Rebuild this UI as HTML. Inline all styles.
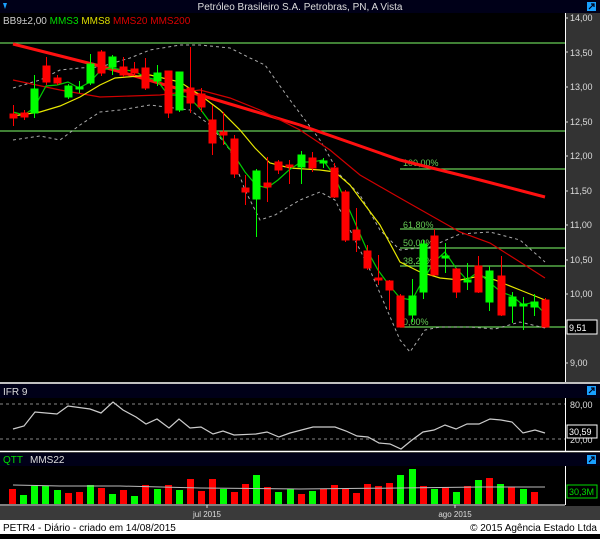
<!DOCTYPE html>
<html><head><meta charset="utf-8"><style>
body{margin:0;background:#000;width:600px;height:534px;overflow:hidden;font-family:"Liberation Sans",sans-serif}
text{font-family:"Liberation Sans",sans-serif}
</style></head><body>
<svg width="600" height="534" viewBox="0 0 600 534" xmlns="http://www.w3.org/2000/svg">
<rect width="600" height="534" fill="#000"/>
<!-- title bar -->
<rect x="0" y="0" width="600" height="13" fill="#000018"/>
<text x="300" y="10" font-size="10" fill="#ddd" text-anchor="middle">Petróleo Brasileiro S.A. Petrobras, PN, A Vista</text>
<path d="M3 3 L5 9 L7 3 Z" fill="#19a0ff"/>
<rect x="587" y="2" width="9" height="9" fill="#19a0ff"/><path d="M589 9 L594 4 M591 4 L594 4 L594 7" stroke="#000018" stroke-width="1.2" fill="none"/>
<text x="3" y="24" font-size="10" fill="#ccc">BB9±2,00 <tspan fill="#00dd00">MMS3</tspan> <tspan fill="#dddd00">MMS8</tspan> <tspan fill="#dd0000">MMS20</tspan> <tspan fill="#dd0000">MMS200</tspan></text>
<!-- right axis -->
<rect x="565" y="13" width="35" height="369" fill="#333"/>
<line x1="565.5" y1="13" x2="565.5" y2="382" stroke="#fff"/>
<g font-size="9" fill="#ddd">
<text x="570" y="21">14,00</text><text x="570" y="56">13,50</text><text x="570" y="90">13,00</text><text x="570" y="125">12,50</text><text x="570" y="159">12,00</text><text x="570" y="194">11,50</text><text x="570" y="228">11,00</text><text x="570" y="263">10,50</text><text x="570" y="297">10,00</text><text x="570" y="366">9,00</text>
</g>
<g stroke="#ddd"><line x1="565" y1="18" x2="568" y2="18"/><line x1="565" y1="52" x2="568" y2="52"/><line x1="565" y1="87" x2="568" y2="87"/><line x1="565" y1="122" x2="568" y2="122"/><line x1="565" y1="156" x2="568" y2="156"/><line x1="565" y1="191" x2="568" y2="191"/><line x1="565" y1="225" x2="568" y2="225"/><line x1="565" y1="260" x2="568" y2="260"/><line x1="565" y1="294" x2="568" y2="294"/><line x1="565" y1="363" x2="568" y2="363"/></g>
<rect x="567" y="320" width="30" height="14" fill="#000" stroke="#fff"/>
<text x="569" y="331" font-size="9" fill="#fff">9,51</text>
<!-- horizontal lines -->
<g stroke="#66cc55" stroke-width="1.2">
<line x1="0" y1="43" x2="565" y2="43"/><line x1="0" y1="131" x2="565" y2="131"/>
<line x1="400" y1="169" x2="565" y2="169"/><line x1="400" y1="229" x2="565" y2="229"/>
<line x1="400" y1="248" x2="565" y2="248"/><line x1="400" y1="266" x2="565" y2="266"/>
<line x1="400" y1="327" x2="565" y2="327"/>
</g>
<g font-size="9" fill="#66cc55">
<text x="403" y="166">100,00%</text><text x="403" y="228">61,80%</text><text x="403" y="246">50,00%</text><text x="403" y="264">38,20%</text><text x="403" y="325">0,00%</text>
</g>
<!-- bollinger -->
<g stroke="#aaa" stroke-width="1" stroke-dasharray="3,3" fill="none">
<polyline points="13,88 40,80 60,70 80,68 100,67 130,58 150,50 180,45 200,45 230,48 250,58 265,65 290,100 320,140 340,175 360,195 380,230 400,250 430,247 460,234 490,232 520,240 545,262"/>
<polyline points="13,140 40,136 60,140 80,125 100,112 120,110 150,105 190,110 210,125 230,150 245,190 260,220 275,215 300,200 320,192 335,200 350,230 370,270 385,305 400,340 410,352 425,330 440,327 470,327 495,329 520,322 545,328"/>
</g>
<!-- MMS200 -->
<polyline points="13,44 100,66 200,95 300,125 400,160 480,180 545,197" stroke="#ff1010" stroke-width="3" fill="none"/>
<!-- MMS20 -->
<polyline points="13,80 60,90 100,97 160,95 200,90 230,98 260,110 300,130 330,150 360,175 400,198 430,215 460,232 490,243 520,262 545,278" stroke="#d00000" stroke-width="1.2" fill="none"/>
<!-- MMS8 -->
<polyline points="13,116 40,112 60,106 80,97 100,85 115,78 150,75 180,82 200,95 220,110 240,130 255,148 270,163 290,168 320,170 335,172 350,185 365,205 380,225 400,262 420,272 440,278 460,280 480,276 495,280 520,290 545,300" stroke="#e8e800" stroke-width="1.2" fill="none"/>
<!-- MMS3 -->
<polyline points="13,112 24,115 34,108 46,86 57,85 68,82 79,88 90,82 101,70 112,68 123,70 134,71 145,77 157,80 168,95 179,95 190,98 201,110 212,125 223,140 234,155 245,172 256,185 267,188 278,180 289,170 301,162 312,162 323,160 334,175 345,200 356,225 367,250 378,270 389,285 400,298 412,300 423,280 434,262 445,252 456,268 467,280 478,272 489,282 501,292 512,296 523,305 534,302 545,314" stroke="#00cc00" stroke-width="1.2" fill="none"/>
<!-- candles -->
<g stroke-width="1">
<g stroke="#ff0000" fill="#ff0000">
<line x1="13.5" y1="105" x2="13.5" y2="126"/><rect x="10" y="114" width="7" height="4"/>
<line x1="24.5" y1="110" x2="24.5" y2="120"/><rect x="21" y="113" width="7" height="4"/>
<line x1="46.5" y1="57" x2="46.5" y2="85"/><rect x="43" y="66" width="7" height="16"/>
<line x1="57.5" y1="75" x2="57.5" y2="85"/><rect x="54" y="78" width="7" height="5"/>
<line x1="101.5" y1="50" x2="101.5" y2="76"/><rect x="98" y="52" width="7" height="21"/>
<line x1="123.5" y1="57" x2="123.5" y2="77"/><rect x="120" y="67" width="7" height="8"/>
<line x1="134.5" y1="62" x2="134.5" y2="76"/><rect x="131" y="69" width="7" height="4"/>
<line x1="145.5" y1="58" x2="145.5" y2="90"/><rect x="142" y="68" width="7" height="20"/>
<line x1="168.5" y1="71" x2="168.5" y2="118"/><rect x="165" y="71" width="7" height="42"/>
<line x1="190.5" y1="47" x2="190.5" y2="113"/><rect x="187" y="88" width="7" height="15"/>
<line x1="201.5" y1="88" x2="201.5" y2="112"/><rect x="198" y="94" width="7" height="13"/>
<line x1="212.5" y1="105" x2="212.5" y2="155"/><rect x="209" y="120" width="7" height="23"/>
<line x1="223.5" y1="112" x2="223.5" y2="145"/><rect x="220" y="132" width="7" height="3"/>
<line x1="234.5" y1="135" x2="234.5" y2="178"/><rect x="231" y="139" width="7" height="35"/>
<line x1="245.5" y1="175" x2="245.5" y2="205"/><rect x="242" y="188" width="7" height="4"/>
<line x1="267.5" y1="157" x2="267.5" y2="202"/><rect x="264" y="183" width="7" height="4"/>
<line x1="278.5" y1="160" x2="278.5" y2="174"/><rect x="275" y="162" width="7" height="8"/>
<line x1="289.5" y1="160" x2="289.5" y2="184"/><rect x="286" y="165" width="7" height="2"/>
<line x1="312.5" y1="152" x2="312.5" y2="172"/><rect x="309" y="158" width="7" height="10"/>
<line x1="334.5" y1="163" x2="334.5" y2="198"/><rect x="331" y="168" width="7" height="29"/>
<line x1="345.5" y1="190" x2="345.5" y2="242"/><rect x="342" y="192" width="7" height="48"/>
<line x1="356.5" y1="208" x2="356.5" y2="252"/><rect x="353" y="230" width="7" height="10"/>
<line x1="367.5" y1="245" x2="367.5" y2="270"/><rect x="364" y="251" width="7" height="17"/>
<line x1="378.5" y1="255" x2="378.5" y2="285"/><rect x="375" y="278" width="7" height="2"/>
<line x1="389.5" y1="280" x2="389.5" y2="310"/><rect x="386" y="281" width="7" height="9"/>
<line x1="400.5" y1="294" x2="400.5" y2="327"/><rect x="397" y="296" width="7" height="31"/>
<line x1="434.5" y1="229" x2="434.5" y2="275"/><rect x="431" y="236" width="7" height="39"/>
<line x1="456.5" y1="268" x2="456.5" y2="298"/><rect x="453" y="269" width="7" height="23"/>
<line x1="478.5" y1="256" x2="478.5" y2="293"/><rect x="475" y="266" width="7" height="26"/>
<line x1="501.5" y1="256" x2="501.5" y2="316"/><rect x="498" y="276" width="7" height="39"/>
<line x1="545.5" y1="298" x2="545.5" y2="328"/><rect x="542" y="300" width="7" height="27"/>
</g>
<g stroke="#00ff00" fill="#00ff00">
<line x1="34.5" y1="75" x2="34.5" y2="118"/><rect x="31" y="89" width="7" height="24"/>
<line x1="68.5" y1="84" x2="68.5" y2="99"/><rect x="65" y="86" width="7" height="11"/>
<line x1="79.5" y1="81" x2="79.5" y2="93"/><rect x="76" y="87" width="7" height="2"/>
<line x1="90.5" y1="54" x2="90.5" y2="85"/><rect x="87" y="64" width="7" height="19"/>
<line x1="112.5" y1="55" x2="112.5" y2="75"/><rect x="109" y="57" width="7" height="10"/>
<line x1="157.5" y1="65" x2="157.5" y2="86"/><rect x="154" y="73" width="7" height="8"/>
<line x1="179.5" y1="72" x2="179.5" y2="112"/><rect x="176" y="72" width="7" height="38"/>
<line x1="256.5" y1="169" x2="256.5" y2="237"/><rect x="253" y="171" width="7" height="28"/>
<line x1="301.5" y1="151" x2="301.5" y2="184"/><rect x="298" y="155" width="7" height="12"/>
<line x1="323.5" y1="158" x2="323.5" y2="168"/><rect x="320" y="161" width="7" height="2"/>
<line x1="412.5" y1="279" x2="412.5" y2="322"/><rect x="409" y="296" width="7" height="19"/>
<line x1="423.5" y1="240" x2="423.5" y2="299"/><rect x="420" y="244" width="7" height="48"/>
<line x1="445.5" y1="243" x2="445.5" y2="273"/><rect x="442" y="256" width="7" height="2"/>
<line x1="467.5" y1="263" x2="467.5" y2="290"/><rect x="464" y="280" width="7" height="2"/>
<line x1="489.5" y1="266" x2="489.5" y2="311"/><rect x="486" y="271" width="7" height="31"/>
<line x1="512.5" y1="292" x2="512.5" y2="323"/><rect x="509" y="297" width="7" height="9"/>
<line x1="523.5" y1="297" x2="523.5" y2="330"/><rect x="520" y="304" width="7" height="2"/>
<line x1="534.5" y1="294" x2="534.5" y2="316"/><rect x="531" y="302" width="7" height="5"/>
</g>
</g>
<!-- IFR panel -->
<line x1="0" y1="383" x2="600" y2="383" stroke="#fff" stroke-width="1.5"/>
<rect x="0" y="384" width="600" height="14" fill="#000018"/>
<text x="3" y="395" font-size="10" fill="#ddd">IFR 9</text>
<rect x="587" y="386" width="9" height="9" fill="#19a0ff"/><path d="M589 393 L594 388 M591 388 L594 388 L594 391" stroke="#000018" stroke-width="1.2" fill="none"/>
<line x1="565.5" y1="398" x2="565.5" y2="451" stroke="#fff"/>
<g stroke="#888" stroke-dasharray="3,3"><line x1="0" y1="404" x2="565" y2="404"/><line x1="0" y1="439" x2="565" y2="439"/></g>
<text x="570" y="408" font-size="9" fill="#ddd">80,00</text>
<text x="570" y="443" font-size="9" fill="#ddd">20,00</text>
<rect x="567" y="425" width="30" height="13" fill="#000" stroke="#fff"/>
<text x="569" y="435" font-size="9" fill="#fff">30,59</text>
<polyline points="13,429 24,426 35,412 57,414 68,406 90,409 101,413 113,402 123,410 136,417 146,424 157,419 169,428 179,419 190,428 201,427 213,434 223,431 234,435 256,434 267,432 279,437 290,433 313,427 335,427 346,431 357,436 368,437 379,443 390,444 401,449 412,440 423,432 434,430 445,425 456,429 467,424 479,424 490,419 501,420 512,422 523,433 535,430 545,433" stroke="#ccc" stroke-width="1.2" fill="none"/>
<!-- QTT panel -->
<line x1="0" y1="451.5" x2="600" y2="451.5" stroke="#fff" stroke-width="1.5"/>
<rect x="0" y="453" width="600" height="13" fill="#000018"/>
<text x="3" y="463" font-size="10" fill="#00dd00">QTT</text>
<text x="30" y="463" font-size="10" fill="#ddd">MMS22</text>
<rect x="587" y="455" width="9" height="9" fill="#19a0ff"/><path d="M589 462 L594 457 M591 457 L594 457 L594 460" stroke="#000018" stroke-width="1.2" fill="none"/>
<line x1="565.5" y1="466" x2="565.5" y2="505" stroke="#fff"/>
<g>
<g fill="#ff0000">
<rect x="9" y="489" width="7" height="15"/><rect x="65" y="493" width="7" height="11"/><rect x="76" y="492" width="7" height="12"/><rect x="98" y="488" width="7" height="16"/><rect x="120" y="490" width="7" height="14"/><rect x="142" y="485" width="7" height="19"/><rect x="165" y="485" width="7" height="19"/><rect x="187" y="479" width="7" height="25"/><rect x="198" y="491" width="7" height="13"/><rect x="209" y="479" width="7" height="25"/><rect x="231" y="492" width="7" height="12"/><rect x="242" y="484" width="7" height="20"/><rect x="264" y="487" width="7" height="17"/>
<rect x="298" y="494" width="7" height="10"/><rect x="320" y="489" width="7" height="15"/><rect x="331" y="485" width="7" height="19"/><rect x="342" y="489" width="7" height="15"/><rect x="353" y="493" width="7" height="11"/><rect x="364" y="484" width="7" height="20"/><rect x="375" y="486" width="7" height="18"/><rect x="386" y="483" width="7" height="21"/><rect x="420" y="486" width="7" height="18"/><rect x="442" y="487" width="7" height="17"/><rect x="464" y="486" width="7" height="18"/><rect x="486" y="478" width="7" height="26"/><rect x="508" y="487" width="7" height="17"/><rect x="531" y="492" width="7" height="12"/>
</g>
<g fill="#00ff00">
<rect x="20" y="495" width="7" height="9"/><rect x="31" y="486" width="7" height="18"/><rect x="42" y="486" width="7" height="18"/><rect x="54" y="490" width="7" height="14"/><rect x="87" y="485" width="7" height="19"/><rect x="109" y="494" width="7" height="10"/><rect x="131" y="496" width="7" height="8"/><rect x="154" y="489" width="7" height="15"/><rect x="176" y="490" width="7" height="14"/><rect x="220" y="489" width="7" height="15"/><rect x="253" y="475" width="7" height="29"/><rect x="275" y="492" width="7" height="12"/><rect x="287" y="489" width="7" height="15"/>
<rect x="309" y="491" width="7" height="13"/><rect x="397" y="475" width="7" height="29"/><rect x="409" y="469" width="7" height="35"/><rect x="431" y="489" width="7" height="15"/><rect x="453" y="492" width="7" height="12"/><rect x="475" y="480" width="7" height="24"/><rect x="497" y="484" width="7" height="20"/><rect x="520" y="489" width="7" height="15"/>
</g>
</g>
<polyline points="13,485 60,486 120,486 200,488 300,489 400,488 480,487 545,487" stroke="#bbb" stroke-width="1" fill="none"/>
<rect x="567" y="485" width="30" height="13" fill="#000" stroke="#00dd00"/>
<text x="569" y="495" font-size="9" fill="#00dd00">30,3M</text>
<line x1="0" y1="505" x2="565" y2="505" stroke="#fff"/>
<!-- bottom axis -->
<rect x="0" y="506" width="600" height="14" fill="#3a3a3a"/>
<line x1="207" y1="505" x2="207" y2="508" stroke="#ddd"/><line x1="455" y1="505" x2="455" y2="508" stroke="#ddd"/>
<text x="207" y="517" font-size="8" fill="#ddd" text-anchor="middle">jul 2015</text>
<text x="455" y="517" font-size="8" fill="#ddd" text-anchor="middle">ago 2015</text>
<rect x="0" y="520" width="600" height="14" fill="#fff"/>
<text x="3" y="531" font-size="10" fill="#000">PETR4 - Diário - criado em 14/08/2015</text>
<text x="597" y="531" font-size="10" fill="#000" text-anchor="end">© 2015 Agência Estado Ltda</text>
</svg>
</body></html>
